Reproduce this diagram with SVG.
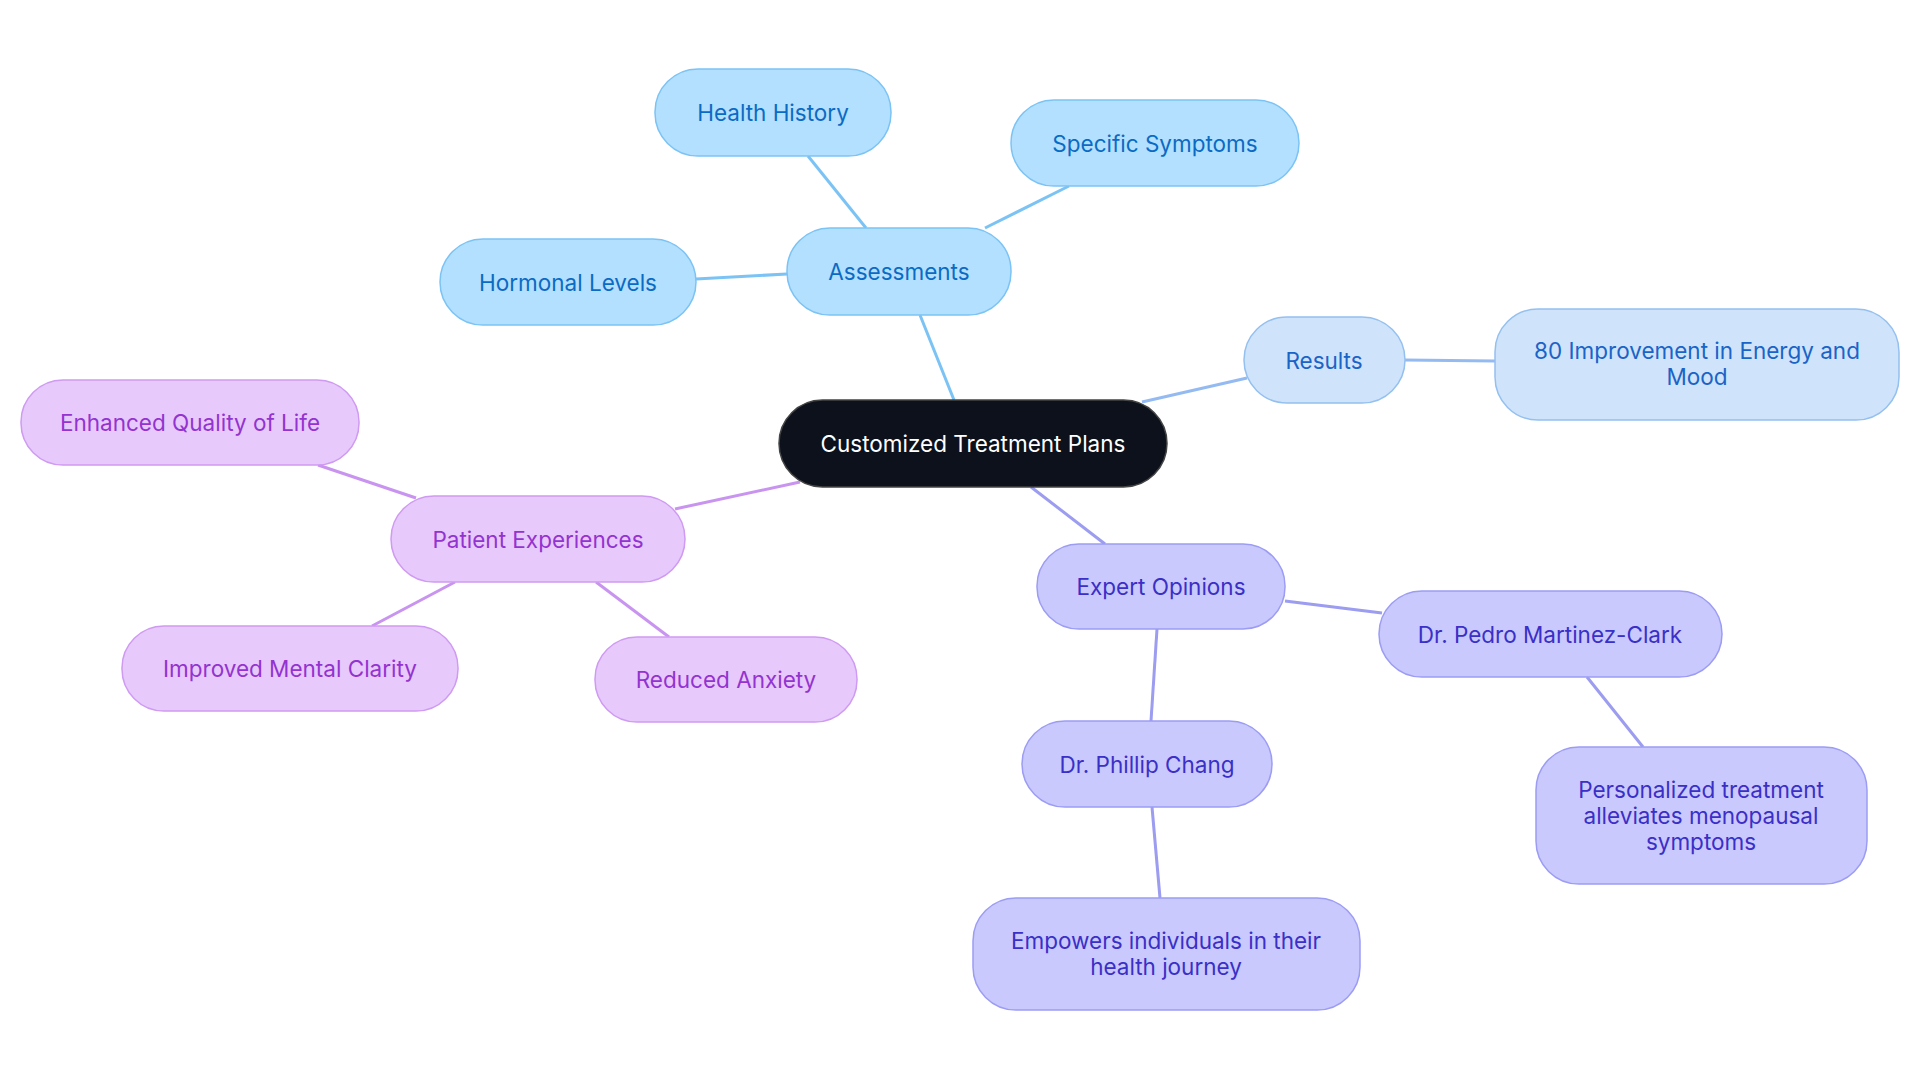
<svg xmlns="http://www.w3.org/2000/svg" width="1920" height="1083" viewBox="0 0 1920 1083">
<style>
text{font-family:Inter,"Noto Sans",sans-serif;font-size:22.5px;text-anchor:middle;dominant-baseline:central}
.b rect{fill:#b3e0fe;stroke:#7cc3f5;stroke-width:1.5}.b text{fill:#0b6bc4}
.r rect{fill:#cfe3fb;stroke:#94c0f0;stroke-width:1.5}.r text{fill:#1a64c8}
.p rect{fill:#e8c9fc;stroke:#cf9af2;stroke-width:1.5}.p text{fill:#9333d0}
.i rect{fill:#c9c9fd;stroke:#9c9cf5;stroke-width:1.5}.i text{fill:#3a2fc7}
#edges line{stroke-width:3}
.eb{stroke:#7cc3f5}.er{stroke:#94baf2}.ep{stroke:#c994f0}.ei{stroke:#9c9cf0}
</style>
<rect width="1920" height="1083" fill="#fff"/>
<g id="edges">
<line class="eb" x1="954" y1="400" x2="920" y2="315"/>
<line class="eb" x1="866" y1="228" x2="808" y2="156"/>
<line class="eb" x1="985" y1="228" x2="1069" y2="186"/>
<line class="eb" x1="787" y1="274" x2="696" y2="279"/>
<line class="er" x1="1142" y1="402" x2="1247" y2="378"/>
<line class="er" x1="1405" y1="360" x2="1495" y2="361"/>
<line class="ep" x1="800" y1="482" x2="675" y2="509"/>
<line class="ep" x1="416" y1="498" x2="318" y2="465"/>
<line class="ep" x1="455" y1="582" x2="372" y2="626"/>
<line class="ep" x1="596" y1="582" x2="669" y2="637"/>
<line class="ei" x1="1031" y1="487" x2="1105" y2="544"/>
<line class="ei" x1="1285" y1="601" x2="1382" y2="613"/>
<line class="ei" x1="1587" y1="677" x2="1643" y2="747"/>
<line class="ei" x1="1157" y1="629" x2="1151" y2="721"/>
<line class="ei" x1="1152" y1="807" x2="1160" y2="898"/>
</g>
<g id="central"><rect x="779" y="400" width="388" height="87" rx="43.5" fill="#0c111b" stroke="#444" stroke-width="1.5"/><text x="973" y="443" fill="#fff">Customized Treatment Plans</text></g>
<g id="assessments" class="b"><rect x="787" y="228" width="224" height="87" rx="43"/><text x="899" y="271">Assessments</text></g>
<g id="health" class="b"><rect x="655" y="69" width="236" height="87" rx="43"/><text x="773" y="112">Health History</text></g>
<g id="symptoms" class="b"><rect x="1011" y="100" width="288" height="86" rx="43"/><text x="1155" y="143">Specific Symptoms</text></g>
<g id="hormonal" class="b"><rect x="440" y="239" width="256" height="86" rx="43"/><text x="568" y="282">Hormonal Levels</text></g>
<g id="results" class="r"><rect x="1244" y="317" width="161" height="86" rx="43"/><text x="1324" y="360">Results</text></g>
<g id="improvement" class="r"><rect x="1495" y="309" width="404" height="111" rx="43"/><text x="1697" y="350">80 Improvement in Energy and</text><text x="1697" y="376">Mood</text></g>
<g id="patient" class="p"><rect x="391" y="496" width="294" height="86" rx="43"/><text x="538" y="539">Patient Experiences</text></g>
<g id="quality" class="p"><rect x="21" y="380" width="338" height="85" rx="42"/><text x="190" y="422">Enhanced Quality of Life</text></g>
<g id="clarity" class="p"><rect x="122" y="626" width="336" height="85" rx="42"/><text x="290" y="668">Improved Mental Clarity</text></g>
<g id="anxiety" class="p"><rect x="595" y="637" width="262" height="85" rx="42"/><text x="726" y="679">Reduced Anxiety</text></g>
<g id="expert" class="i"><rect x="1037" y="544" width="248" height="85" rx="42"/><text x="1161" y="586">Expert Opinions</text></g>
<g id="pedro" class="i"><rect x="1379" y="591" width="343" height="86" rx="43"/><text x="1550" y="634">Dr. Pedro Martinez-Clark</text></g>
<g id="personalized" class="i"><rect x="1536" y="747" width="331" height="137" rx="43"/><text x="1701" y="789">Personalized treatment</text><text x="1701" y="815">alleviates menopausal</text><text x="1701" y="841">symptoms</text></g>
<g id="phillip" class="i"><rect x="1022" y="721" width="250" height="86" rx="43"/><text x="1147" y="764">Dr. Phillip Chang</text></g>
<g id="empowers" class="i"><rect x="973" y="898" width="387" height="112" rx="43"/><text x="1166" y="940">Empowers individuals in their</text><text x="1166" y="966">health journey</text></g>
</svg>
